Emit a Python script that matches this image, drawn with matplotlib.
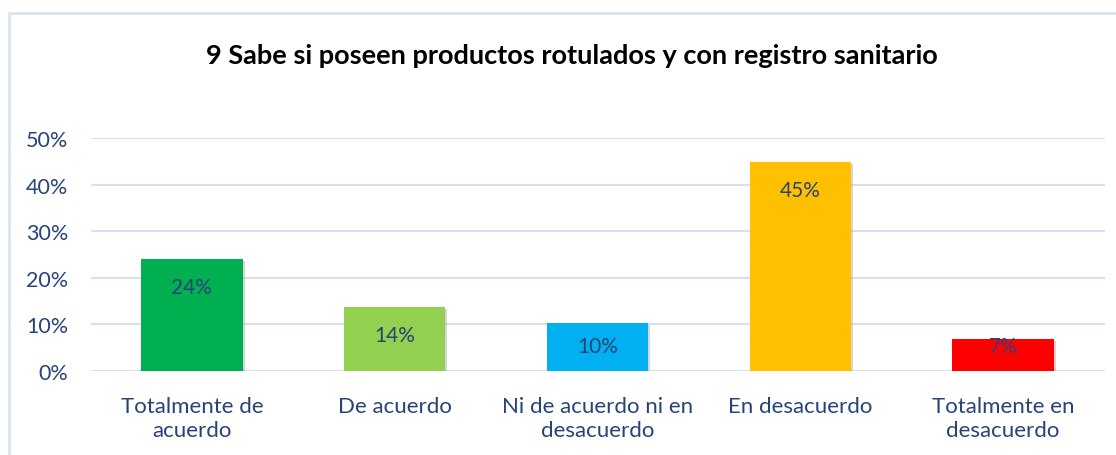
import matplotlib.pyplot as plt
import matplotlib.patheffects as pe
from matplotlib.patches import Rectangle
import numpy as np

categorias = ["Totalmente de\nacuerdo", "De acuerdo", "Ni de acuerdo ni en\ndesacuerdo",
              "En desacuerdo", "Totalmente en\ndesacuerdo"]
valores = [0.24, 0.137, 0.103, 0.448, 0.069]
colores = ["#00B050", "#92D050", "#00B0F0", "#FFC000", "#FF0000"]
yticks = [0, 0.1, 0.2, 0.3, 0.4, 0.5]

texto = "#264478"
plt.rcParams['font.family'] = ['Lato', 'DejaVu Sans']

fig = plt.figure(figsize=(11.16, 4.56), dpi=100)
ax = fig.add_axes([0.0811, 0.1842, 0.9086, 0.511])

x = np.arange(len(categorias))
barras = ax.bar(x, valores, width=0.5, color=colores, zorder=3)
for b in barras:
    b.set_path_effects([pe.SimplePatchShadow(offset=(1.5, -1.5), shadow_rgbFace='#999999', alpha=0.4),
                        pe.Normal()])

# etiqueta dentro del extremo, sin bajar del borde inferior
for xi, v in zip(x, valores):
    ax.text(xi, max(v - 0.06, 0.0536), f"{v*100:.0f}%", ha="center", va="center",
            fontsize=15, color=texto, zorder=4)

ax.set_xlim(-0.5, len(categorias) - 0.5)
ax.set_ylim(0, 0.5)
ax.set_yticks(yticks)
ax.set_yticklabels([f"{t*100:.0f}%" for t in yticks])
ax.set_xticks(x)
ax.set_xticklabels(categorias, linespacing=1.22)
ax.tick_params(axis="both", length=0, labelcolor=texto)
ax.tick_params(axis="x", pad=18, labelsize=16)
ax.tick_params(axis="y", pad=16, labelsize=15.5)
ax.grid(axis="y", color="#D6E0F0", linewidth=1.5, zorder=0)
for s in ax.spines.values():
    s.set_visible(False)

fig.text(0.5125, 0.878, "9 Sabe si poseen productos rotulados y con registro sanitario",
         ha="center", va="center", fontsize=19.5, fontweight="bold", color="black")

# marco del grafico (el borde derecho e inferior quedan fuera de la imagen)
fig.patches.append(Rectangle((0.0085, -0.05), 1.05, 1.019, transform=fig.transFigure,
                             fill=False, edgecolor="#D6E0F0", linewidth=1.8))

fig.savefig("out.png", dpi=100)
